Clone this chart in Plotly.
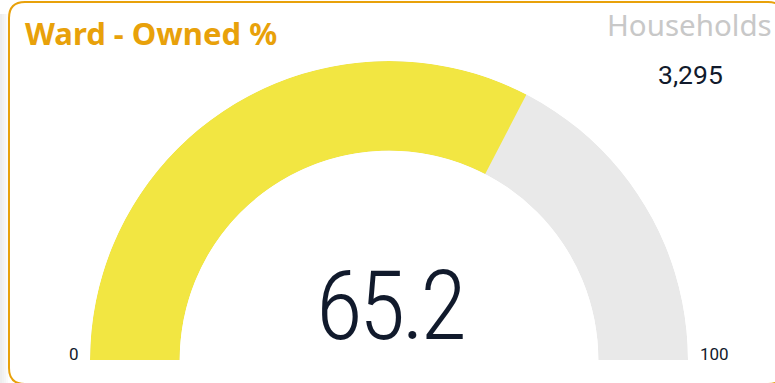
import plotly.graph_objects as go

# Gauge data
title_text = "Ward - Owned %"
owned_pct = 65.2
gauge_min = 0
gauge_max = 100
households_label = "Households"
households_count = 3295

W, H = 775, 383
YELLOW = "#F2E642"
GREY = "#E9E9E9"
ORANGE = "#E8A10A"
DARK = "#111A2C"

span = gauge_max - gauge_min
deg_per_unit = 180.0 / span
filled_deg = (owned_pct - gauge_min) * deg_per_unit

fig = go.Figure()

# background track (full half circle)
fig.add_trace(go.Barpolar(
    r=[1], theta=[90], width=[180],
    marker=dict(color=GREY, line=dict(width=0)),
    hoverinfo="skip", showlegend=False,
))
# value arc, growing clockwise from the left end
fig.add_trace(go.Barpolar(
    r=[1], theta=[180 - filled_deg / 2], width=[filled_deg],
    marker=dict(color=YELLOW, line=dict(width=0)),
    hoverinfo="skip", showlegend=False,
))


def px(x, y):
    return x / W, 1 - y / H


annotations = []


def label(text, x, y, size, color, xanchor="center", yanchor="middle",
          family="Roboto", weight="normal"):
    ax, ay = px(x, y)
    annotations.append(dict(
        text=text, x=ax, y=ay, xref="paper", yref="paper",
        xanchor=xanchor, yanchor=yanchor, showarrow=False,
        font=dict(size=size, color=color, family=family, weight=weight),
    ))


label(f"<b>{title_text}</b>", 23, 33, 31, ORANGE, xanchor="left",
      family="Noto Sans")
label(households_label, 774, 25, 29.5, "#C8C8C8", xanchor="right",
      family="Noto Sans")
label(f"{households_count:,}", 690, 75, 26.5, DARK, family="Roboto")
label(f'<span style="font-stretch:condensed;letter-spacing:-4px">'
      f'{owned_pct:.1f}</span>',
      389, 306, 96, DARK, family="Roboto", weight=300)
label(f"{gauge_min}", 74, 354, 17, DARK, family="Roboto")
label(f"{gauge_max}", 714, 354, 17, DARK, family="Roboto")

# rounded card border
x0, x1 = px(9, 0)[0], px(784, 0)[0]
y1, y0 = px(0, 2)[1], px(0, 384)[1]
rx, ry = 16 / W, 16 / H
border = (
    f"M {x0 + rx},{y1} L {x1 - rx},{y1} Q {x1},{y1} {x1},{y1 - ry} "
    f"L {x1},{y0 + ry} Q {x1},{y0} {x1 - rx},{y0} "
    f"L {x0 + rx},{y0} Q {x0},{y0} {x0},{y0 + ry} "
    f"L {x0},{y1 - ry} Q {x0},{y1} {x0 + rx},{y1} Z"
)

# soft drop shadow along the card's left edge
shapes = []
for i, c in enumerate(["#EDEDED", "#F1F1F1", "#F5F5F5", "#FAFAFA"]):
    sx0, sy0 = px(2 * i, 383)
    sx1, sy1 = px(2 * i + 2, 14)
    shapes.append(dict(type="rect", xref="paper", yref="paper",
                       x0=sx0, x1=sx1, y0=sy0, y1=sy1,
                       fillcolor=c, line=dict(width=0), layer="below"))
shapes.append(dict(type="path", path=border, xref="paper", yref="paper",
                   line=dict(color=ORANGE, width=2), layer="above"))

dx0, dx1 = 90 / W, 688 / W
dy0, dy1 = 1 - 360 / H, 1 - 61 / H

fig.update_layout(
    width=W, height=H,
    margin=dict(l=0, r=0, t=0, b=0),
    paper_bgcolor="white", plot_bgcolor="white",
    polar=dict(
        domain=dict(x=[dx0, dx1], y=[dy0, dy1]),
        sector=[0, 180], hole=0.7,
        bgcolor="rgba(0,0,0,0)",
        radialaxis=dict(visible=False, range=[0, 1]),
        angularaxis=dict(visible=False, direction="counterclockwise", rotation=0),
    ),
    annotations=annotations,
    shapes=shapes,
    showlegend=False,
)

fig.write_html("out.html")
